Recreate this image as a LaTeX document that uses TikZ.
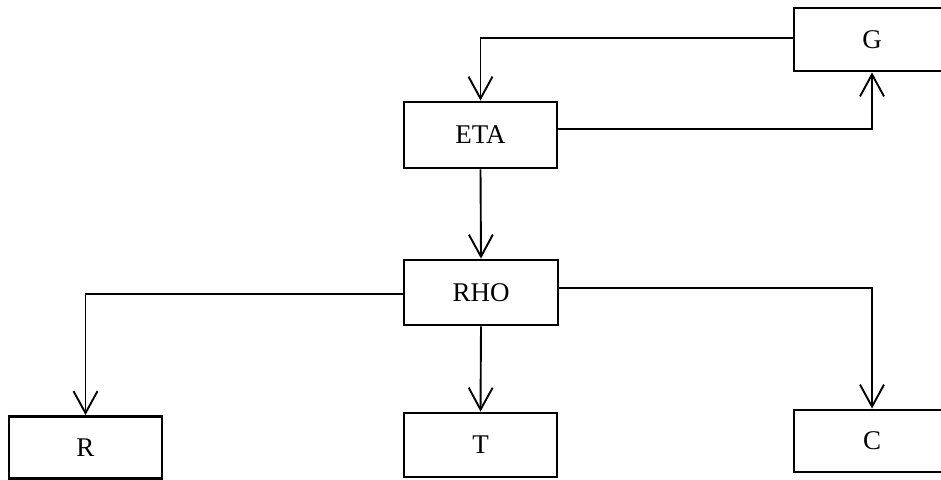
\documentclass[tikz,border=0pt]{standalone}
\usepackage{fontspec}
\setmainfont{Liberation Serif}
\usetikzlibrary{arrows.meta}
\begin{document}
\begin{tikzpicture}[x=1pt,y=-1pt,
  box/.style={draw=black,line width=2.8pt,minimum width=153pt,minimum height=64pt,inner sep=0pt,
    text depth=0pt,font=\fontsize{27}{31}\selectfont},
  conn/.style={line width=1.9pt,-{Straight Barb[length=22pt,width=24pt,line width=1.9pt]}}]
\useasboundingbox[fill=white] (0,0) rectangle (941,479);
\node[box] (G) at (872,39.5) [minimum width=156pt,minimum height=63pt] {G};
\node[box] (ETA) at (480.5,135) [minimum height=66pt] {ETA};
\node[box] (RHO) at (481,292.5) [minimum width=154pt,minimum height=65pt] {RHO};
\node[box] (R) at (85.5,447.5) [minimum height=62pt] {R};
\node[box] (T) at (480.5,445) {T};
\node[box] (C) at (872,441) [minimum width=156pt,minimum height=62pt] {C};
\draw[conn] ([yshift=1.5pt]G.west) -| (ETA.north);
\draw[conn] ([yshift=6pt]ETA.east) -| (G.south);
\draw[conn] (ETA.south) -- (RHO.north);
\draw[conn] ([yshift=-1.5pt]RHO.west) -| (R.north);
\draw[conn] (RHO.south) -- (T.north);
\draw[conn] ([yshift=4.5pt]RHO.east) -| (C.north);
\end{tikzpicture}
\end{document}
